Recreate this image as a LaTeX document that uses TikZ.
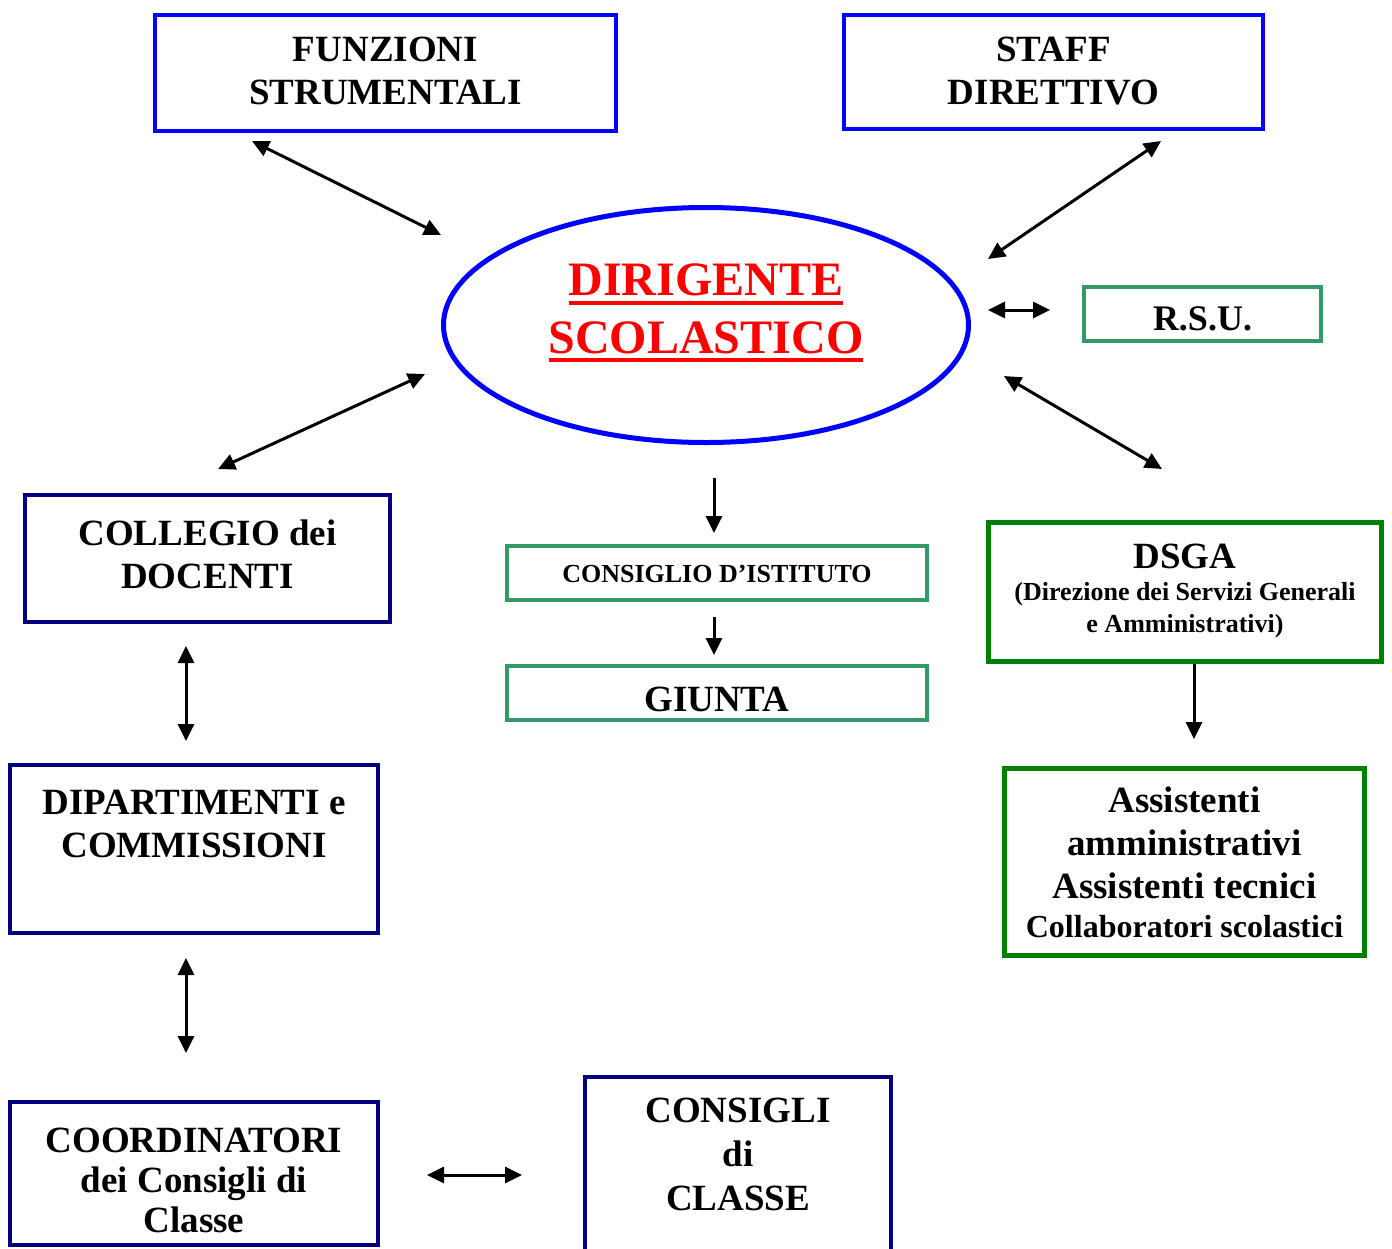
\documentclass[tikz,border=0pt]{standalone}
\usepackage{fontspec}
\setmainfont{Liberation Serif}
\usetikzlibrary{shapes.geometric,arrows.meta}
\definecolor{topblue}{RGB}{0,0,255}
\definecolor{navy}{RGB}{0,0,128}
\definecolor{seagreen}{RGB}{51,153,102}
\definecolor{darkgreen}{RGB}{0,128,0}
\newcommand{\redunder}[2]{\setbox0\hbox{#2}\rlap{\rule[-#1]{\wd0}{4.3pt}}\box0}
\begin{document}
\begin{tikzpicture}[x=1pt, y=-1pt,
    box/.style={draw, rectangle, line width=4pt, inner sep=0pt, align=center,
      font=\bfseries\fontsize{37}{43}\selectfont, text depth=0pt},
    bluebox/.style={box, draw=topblue},
    navybox/.style={box, draw=navy},
    seabox/.style={box, draw=seagreen},
    greenbox/.style={box, draw=darkgreen, line width=5pt},
    link/.style={line width=3pt, {Triangle[length=17pt,width=16pt]}-{Triangle[length=17pt,width=16pt]}},
    onelink/.style={line width=3pt, -{Triangle[length=17pt,width=16pt]}}]
  \clip (0,0) rectangle (1392,1248);
  \fill[white] (0,0) rectangle (1392,1248);

  % top row
  \node[bluebox, minimum width=461pt, minimum height=116pt, text height=62pt] at (385.5,73) (funz) {FUNZIONI\\STRUMENTALI};
  \node[bluebox, minimum width=419pt, minimum height=114pt, text height=64pt] at (1053.5,72) (staff) {STAFF\\DIRETTIVO};

  % dirigente
  \node[ellipse, draw=topblue, line width=5pt, minimum width=525pt, minimum height=235pt, inner sep=0pt,
    align=center, text=red, font=\bfseries\fontsize{48}{58}\selectfont, text height=56pt, text depth=0pt]
    at (706,325) (dir) {\redunder{10pt}{DIRIGENTE}\\\redunder{9pt}{SCOLASTICO}};
  \node[seabox, minimum width=237pt, minimum height=54pt, text height=32pt, font=\bfseries\fontsize{36}{36}\selectfont] at (1202.5,314) (rsu) {R.S.U.};

  % centre column
  \node[seabox, minimum width=420pt, minimum height=54pt, text height=18pt, font=\bfseries\fontsize{26}{26}\selectfont] at (717,573) (cdi) {CONSIGLIO D’ISTITUTO};
  \node[seabox, minimum width=420pt, minimum height=54pt, text height=36pt] at (717,693) (giunta) {GIUNTA};

  % right column
  \node[greenbox, minimum width=393pt, minimum height=139pt, text height=80pt, font=\bfseries\fontsize{26}{32}\selectfont] at (1185,592) (dsga)
    {{\fontsize{37}{37}\selectfont DSGA}\\(Direzione dei Servizi Generali\\e Amministrativi)};
  \node[greenbox, minimum width=360pt, minimum height=187pt, text height=150pt] at (1184.5,862) (assist)
    {Assistenti\\amministrativi\\Assistenti tecnici\\[-4pt]{\fontsize{32}{39}\selectfont Collaboratori scolastici}};

  % left column
  \node[navybox, minimum width=365pt, minimum height=127pt, text height=59pt] at (207.5,558.5) (collegio) {COLLEGIO dei\\DOCENTI};
  \node[navybox, minimum width=368pt, minimum height=168pt, text height=16pt] at (194,849) (dipart) {DIPARTIMENTI e\\COMMISSIONI};
  \node[navybox, minimum width=368pt, minimum height=143pt, text height=117pt, font=\bfseries\fontsize{37}{40}\selectfont] at (194,1173.5) (coord) {COORDINATORI\\dei Consigli di\\Classe};
  \node[navybox, minimum width=306pt, minimum height=221pt, text height=45pt, font=\bfseries\fontsize{37}{44}\selectfont] at (738,1187.5) (consigli) {CONSIGLI\\di\\CLASSE};

  % arrow ends
  \coordinate (funzA) at (252,141);   \coordinate (funzB) at (441,235);
  \coordinate (staffA) at (1161,141); \coordinate (staffB) at (988,259);
  \coordinate (rsuA) at (988,310);    \coordinate (rsuB) at (1050,310);
  \coordinate (collA) at (425,374);   \coordinate (collB) at (218,469);
  \coordinate (dsgaA) at (1004,376);  \coordinate (dsgaB) at (1162,469);
  \coordinate (cdiA) at (714,478);    \coordinate (cdiB) at (714,533);
  \coordinate (giuA) at (714,617);    \coordinate (giuB) at (714,655);
  \coordinate (assA) at (1194,664);   \coordinate (assB) at (1194,739);
  \coordinate (dipA) at (186,646);    \coordinate (dipB) at (186,741);
  \coordinate (coordA) at (186,958);  \coordinate (coordB) at (186,1053);
  \coordinate (clA) at (427,1175);    \coordinate (clB) at (522,1175);

  \draw[link] (funzA) -- (funzB);
  \draw[link] (staffA) -- (staffB);
  \draw[link] (rsuA) -- (rsuB);
  \draw[link] (collA) -- (collB);
  \draw[link] (dsgaA) -- (dsgaB);
  \draw[onelink] (cdiA) -- (cdiB);
  \draw[onelink] (giuA) -- (giuB);
  \draw[onelink] (assA) -- (assB);
  \draw[link] (dipA) -- (dipB);
  \draw[link] (coordA) -- (coordB);
  \draw[link] (clA) -- (clB);
\end{tikzpicture}
\end{document}
